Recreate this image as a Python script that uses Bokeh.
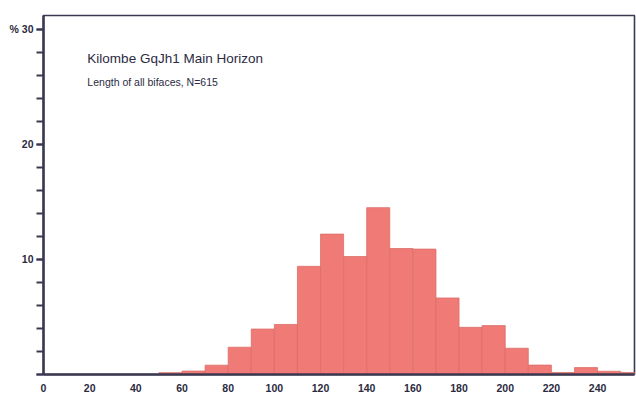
from bokeh.plotting import figure
from bokeh.models import ColumnDataSource, SingleIntervalTicker, Label, Range1d
from bokeh.embed import file_html
from bokeh.resources import INLINE

# Length classes (mm, lower edge of each 10 mm bin) and percentage of bifaces
bin_start = [50, 60, 70, 80, 90, 100, 110, 120, 130, 140, 150, 160,
             170, 180, 190, 200, 210, 220, 230, 240, 250]
percent = [0.16, 0.30, 0.81, 2.37, 3.95, 4.35, 9.4, 12.2, 10.25, 14.5, 10.95, 10.9,
           6.65, 4.1, 4.25, 2.28, 0.82, 0.17, 0.6, 0.28, 0.17]
bin_width = 10

title_text = "Kilombe GqJh1 Main Horizon"
subtitle_text = "Length of all bifaces, N=615"

src = ColumnDataSource(dict(
    left=bin_start,
    right=[b + bin_width for b in bin_start],
    top=percent,
    bottom=[0] * len(bin_start),
))

AX = "#3a3950"
TXT = "#2b2b3f"

p = figure(width=636, height=394, output_backend="svg", toolbar_location=None,
           x_range=Range1d(0, 256), y_range=Range1d(0, 31.2),
           min_border_left=43, min_border_top=15, min_border_right=2, min_border_bottom=20)
p.background_fill_color = "white"
p.border_fill_color = "white"
p.grid.visible = False
p.outline_line_color = AX
p.outline_line_width = 1.6
p.outline_line_alpha = 1.0

p.quad(left="left", right="right", top="top", bottom="bottom", source=src,
       fill_color="#f07a75", line_color="#dc6e6a", line_width=0.8)

# Y axis
ya = p.yaxis[0]
ya.ticker = SingleIntervalTicker(interval=10, num_minor_ticks=5)
ya.major_label_overrides = {0: "", 30: "% 30"}
ya.axis_line_color = AX
ya.axis_line_width = 2.5
ya.major_tick_line_color = AX
ya.major_tick_line_width = 2
ya.major_tick_out = 7
ya.major_tick_in = 0
ya.minor_tick_line_color = AX
ya.minor_tick_line_width = 2
ya.minor_tick_out = 7
ya.minor_tick_in = 0
ya.major_label_text_font = "Liberation Sans"
ya.major_label_text_font_style = "bold"
ya.major_label_text_font_size = "10.5px"
ya.major_label_text_color = TXT
ya.major_label_standoff = 3

# X axis
xa = p.xaxis[0]
xa.ticker = SingleIntervalTicker(interval=20, num_minor_ticks=0)
xa.axis_line_color = AX
xa.axis_line_width = 2.5
xa.major_tick_out = 0
xa.major_tick_in = 0
xa.minor_tick_out = 0
xa.minor_tick_in = 0
xa.major_label_text_font = "Liberation Sans"
xa.major_label_text_font_style = "bold"
xa.major_label_text_font_size = "10.5px"
xa.major_label_text_color = TXT
xa.major_label_standoff = 9

p.add_layout(Label(x=19, y=28.1, text=title_text, text_font="Liberation Sans",
                   text_font_size="13.5px", text_color=TXT, text_baseline="top"))
p.add_layout(Label(x=19, y=25.9, text=subtitle_text, text_font="Liberation Sans",
                   text_font_size="10.5px", text_color=TXT, text_baseline="top"))

open("out.html", "w").write(file_html(p, INLINE))
